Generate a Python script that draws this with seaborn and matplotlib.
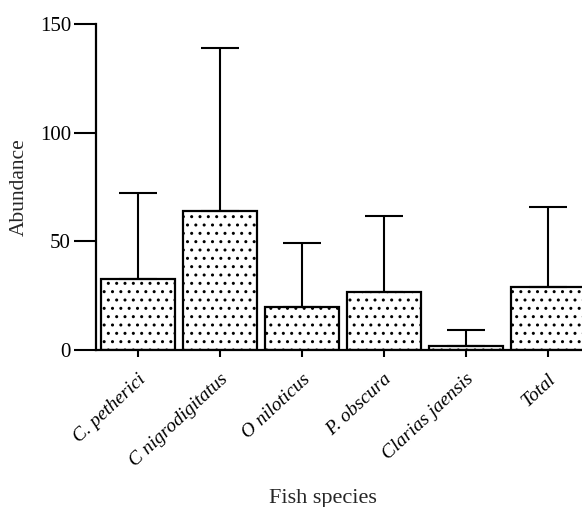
import matplotlib
matplotlib.use("Agg")
import matplotlib.pyplot as plt
import seaborn as sns
import numpy as np
import pandas as pd

species = ["C. petherici", "C nigrodigitatus", "O niloticus", "P. obscura", "Clarias jaensis", "Total"]
mean_abundance = [32.7, 64.0, 19.8, 26.7, 2.0, 29.0]
sd_abundance = [39.5, 75.0, 29.4, 35.0, 7.2, 36.8]
y_ticks = [0, 50, 100, 150]

sns.set_theme(style="ticks")
plt.rcParams["font.family"] = ["Liberation Serif", "DejaVu Serif"]
plt.rcParams["hatch.linewidth"] = 1.0
plt.rcParams["hatch.color"] = "#444444"

df = pd.DataFrame({"species": species, "abundance": mean_abundance})

fig = plt.figure(figsize=(5.82, 5.07), dpi=100)
ax = fig.add_axes([96/582, 157/507, 486/582, 326/507])

sns.barplot(data=df, x="species", y="abundance", ax=ax, color="white",
            edgecolor="black", linewidth=1.6, width=0.9, errorbar=None)
for p in ax.patches:
    p.set_hatch("..")
    p.set_edgecolor("black")

x = np.arange(len(species))
ax.errorbar(x, mean_abundance, yerr=[np.zeros(len(species)), sd_abundance],
            fmt="none", ecolor="black", elinewidth=1.5, capsize=13.5, capthick=1.5, zorder=5)

ax.set_xlim(-0.51, 5.42)
ax.set_ylim(0, 150)
ax.set_yticks(y_ticks)
ax.set_yticklabels([str(t) for t in y_ticks], fontsize=15)
ax.set_xticks(x)
ax.set_xticklabels(species, rotation=43, ha="right", rotation_mode="anchor",
                   fontsize=14, style="italic")
ax.tick_params(axis="y", length=16, width=1.5, pad=2, colors="black")
ax.tick_params(axis="x", length=5, width=1.5, pad=10, colors="black")
for s in ["top", "right"]:
    ax.spines[s].set_visible(False)
for s in ["left", "bottom"]:
    ax.spines[s].set_linewidth(1.6)
    ax.spines[s].set_color("black")
ax.set_ylabel("Abundance", fontsize=15.5)
ax.yaxis.set_label_coords(-0.138, 0.5)
ax.set_xlabel("Fish species", fontsize=16)
ax.xaxis.set_label_coords(0.467, -0.426)

fig.savefig("out.png", dpi=100)
